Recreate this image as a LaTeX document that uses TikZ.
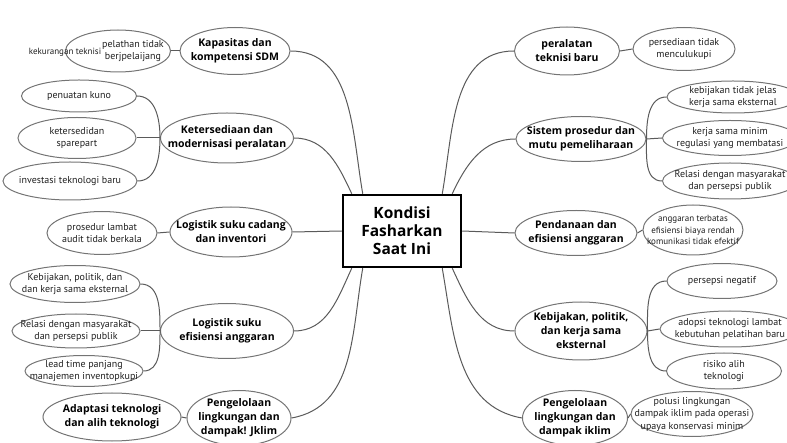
\documentclass[tikz,border=0pt]{standalone}
\usepackage{fontspec}
\setmainfont{PT Sans}
\newfontfamily\titlefont{Open Sans}
\usetikzlibrary{
	calc,
	shapes.geometric,
}
\definecolor{linegray}{HTML}{5A5A5A}
\definecolor{rimgray}{HTML}{747474}
\tikzset{
	bubble/.style 2 args={draw=rimgray, line width=1pt, ellipse, minimum width=#1, minimum height=#2, inner sep=0pt},
	txt/.style={align=center, inner sep=0pt, text=black!88, font=\fontsize{10}{12.5}\selectfont},
	head/.style={txt, text=black, font=\titlefont\bfseries\fontsize{10.5}{14}\selectfont},
	link/.style={draw=linegray, line width=1pt},
}

\begin{document}
\begin{tikzpicture}[x=1pt, y=-1pt]
				\useasboundingbox (0,0) rectangle (787,443);
				\node[draw, line width=2.5pt, minimum width=118, minimum height=72, align=center, font=\titlefont\bfseries\fontsize{15.5}{18}\selectfont] (root) at (402,231) {Kondisi\\Fasharkan\\Saat Ini};
				% left side
				\node[bubble={110}{47}, label={[head]center:Kapasitas dan\\kompetensi SDM}] (kap) at (235,51) {};
				\node[bubble={105}{42}, label={[txt, xshift=15]center:pelathan tidak\\berjpelaijang}] (pel) at (118,51) {};
				\node[txt, font=\fontsize{9}{10}\selectfont] (kurang) at (65,52) {kekurangan teknisi};
				\node[bubble={133}{50}, label={[head]center:Ketersediaan dan\\modernisasi peralatan}] (ket) at (227,138) {};
				\node[bubble={115}{32}, label={[txt]center:penuatan kuno}] (kuno) at (79,96) {};
				\node[bubble={118}{41}, label={[txt]center:ketersedidan\\sparepart}] (spare) at (77,138) {};
				\node[bubble={134}{38}, label={[txt]center:investasi teknologi baru}] (inv) at (70,181) {};
				\node[bubble={122}{50}, label={[head]center:Logistik suku cadang\\dan inventori}] (logc) at (231,232) {};
				\node[bubble={110}{43}, label={[txt]center:prosedur lambat\\audit tidak berkala}] (pros) at (102,233) {};
				\node[bubble={133}{55}, label={[head]center:Logistik suku\\efisiensi anggaran}] (efi) at (227,331) {};
				\node[bubble={130}{37}, label={[txt]center:Kebijakan, politik, dan\\dan kerja sama eksternal}] (kb) at (75,284) {};
				\node[bubble={128}{34}, label={[txt]center:Relasi dengan masyarakat\\dan persepsi publik}] (rel) at (76,331) {};
				\node[bubble={118}{31}, label={[txt]center:lead time panjang\\manajemen inventopkupi}] (lead) at (84,371) {};
				\node[bubble={104}{55}, label={[head]center:Pengelolaan\\lingkungan dan\\dampak! Jklim}] (pengL) at (239,418) {};
				\node[bubble={138}{48}, label={[head]center:Adaptasi teknologi\\dan alih teknologi}] (adapt) at (112,417) {};
				% right side
				\node[bubble={105}{48}, label={[head]center:peralatan\\teknisi baru}] (per) at (567,51) {};
				\node[bubble={102}{43}, label={[txt]center:persediaan tidak\\menculukupi}] (persed) at (684,49) {};
				\node[bubble={130}{45}, label={[head]center:Sistem prosedur dan\\mutu pemeliharaan}] (sis) at (581,139) {};
				\node[bubble={132}{32}, label={[txt]center:kebijakan tidak jelas\\kerja sama eksternal}] (kebij) at (733,97) {};
				\node[bubble={135}{35}, label={[txt]center:kerja sama minim\\regulasi yang membatasi}] (kerja) at (730,138) {};
				\node[bubble={135}{36}, label={[txt]center:Relasi dengan masyarakat\\dan persepsi publik}] (relR) at (730,181) {};
				\node[bubble={122}{45}, label={[head]center:Pendanaan dan\\efisiensi anggaran}] (pend) at (576,233) {};
				\node[bubble={100}{50}, label={[txt, font=\fontsize{9}{11.5}\selectfont]center:anggaran terbatas\\efisiensi biaya rendah\\komunikasi tidak efektif}] (angg) at (693,230) {};
				\node[bubble={132}{58}, label={[head]center:Kebijakan, politik,\\dan kerja sama\\eksternal}] (kebR) at (581,331) {};
				\node[bubble={110}{35}, label={[txt]center:persepsi negatif}] (pneg) at (722,281) {};
				\node[bubble={140}{36}, label={[txt]center:adopsi teknologi lambat\\kebutuhan pelatihan baru}] (adop) at (730,329) {};
				\node[bubble={115}{36}, label={[txt]center:risiko alih\\teknologi}] (risk) at (724,371) {};
				\node[bubble={105}{55}, label={[head]center:Pengelolaan\\lingkungan dan\\dampak iklim}] (pengR) at (575,418) {};
				\node[bubble={122}{45}, label={[txt]center:polusi lingkungan\\dampak iklim pada operasi\\upaya konservasi minim}] (pol) at (692,414) {};
				% links to the centre
				\draw[link] (kap.east) to[out=0, in=100] ([xshift=21]root.north west);
				\draw[link] (ket.east) to[out=0, in=115] ([xshift=10]root.north west);
				\draw[link] (logc.east) -- (root.west);
				\draw[link] (efi.east) to[out=0, in=-115] ([xshift=10]root.south west);
				\draw[link] (pengL.east) to[out=10, in=-100] ([xshift=21]root.south west);
				\draw[link] (per.west) to[out=180, in=80] ([xshift=-20]root.north east);
				\draw[link] (sis.west) to[out=180, in=65] ([xshift=-10]root.north east);
				\draw[link] (pend.west) -- (root.east);
				\draw[link] (kebR.west) to[out=180, in=-65] ([xshift=-10]root.south east);
				\draw[link] (pengR.west) to[out=170, in=-80] ([xshift=-20]root.south east);
				% links to the leaves
				\draw[link] (pel.east) -- (kap.west);
				\draw[link] (kuno.east) to[out=0, in=90] (ket.west);
				\draw[link] (spare.east) -- (ket.west);
				\draw[link] (inv.east) to[out=0, in=-90] (ket.west);
				\draw[link] (pros.east) -- (logc.west);
				\draw[link] (kb.east) to[out=0, in=90] (efi.west);
				\draw[link] (rel.east) -- (efi.west);
				\draw[link] (lead.east) to[out=0, in=-90] (efi.west);
				\draw[link] (adapt.east) -- (pengL.west);
				\draw[link] (per.east) -- (persed.west);
				\draw[link] (sis.east) to[out=90, in=180] (kebij.west);
				\draw[link] (sis.east) -- (kerja.west);
				\draw[link] (sis.east) to[out=-90, in=180] (relR.west);
				\draw[link] (pend.east) -- (angg.west);
				\draw[link] (kebR.east) to[out=90, in=180] (pneg.west);
				\draw[link] (kebR.east) -- (adop.west);
				\draw[link] (kebR.east) to[out=-90, in=180] (risk.west);
				\draw[link] (pengR.east) -- (pol.west);
			\end{tikzpicture}
\end{document}
